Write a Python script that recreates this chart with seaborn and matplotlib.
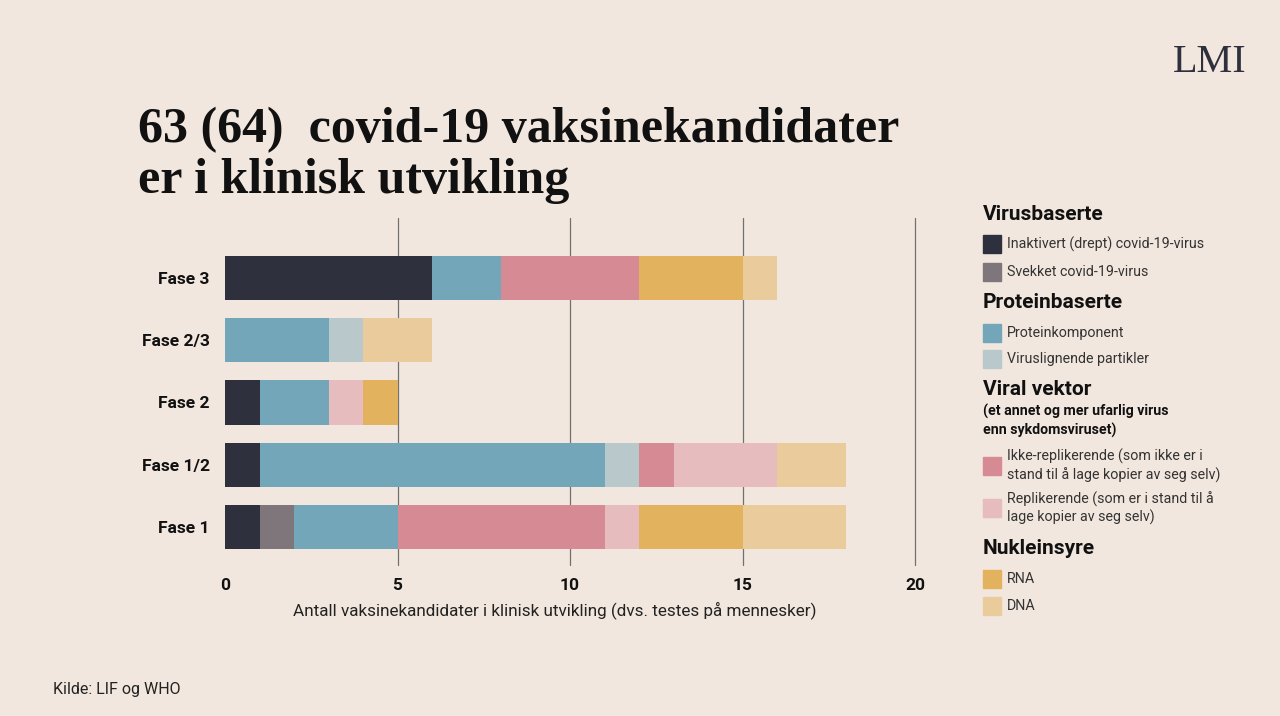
import numpy as np
import pandas as pd
import matplotlib.pyplot as plt
from matplotlib.patches import Rectangle
import seaborn as sns

# data
fases = ["Fase 3", "Fase 2/3", "Fase 2", "Fase 1/2", "Fase 1"]
inaktivert = [6, 0, 1, 1, 1]
svekket = [0, 0, 0, 0, 1]
protein = [2, 3, 2, 10, 3]
viruslignende = [0, 1, 0, 1, 0]
ikke_repl = [4, 0, 0, 1, 6]
repl = [0, 0, 1, 3, 1]
rna = [3, 0, 1, 0, 3]
dna = [1, 2, 0, 2, 3]

series = [
    ("Inaktivert (drept) covid-19-virus", inaktivert, "#2e313d"),
    ("Svekket covid-19-virus", svekket, "#7e767b"),
    ("Proteinkomponent", protein, "#72a6b8"),
    ("Viruslignende partikler", viruslignende, "#b9c8cb"),
    ("Ikke-replikerende (som ikke er i\nstand til å lage kopier av seg selv)", ikke_repl, "#d68b94"),
    ("Replikerende (som er i stand til å\nlage kopier av seg selv)", repl, "#e6bcbf"),
    ("RNA", rna, "#e3b25e"),
    ("DNA", dna, "#eacb9c"),
]

BG = "#f2e7de"
sns.set_theme(style="white")
plt.rcParams["font.family"] = ["Roboto", "DejaVu Sans"]

fig = plt.figure(figsize=(12.8, 7.16), dpi=100, facecolor=BG)
ax = fig.add_axes([225 / 1280, 1 - 565 / 716, 690 / 1280, 347 / 716])
ax.set_facecolor(BG)

# stacked bars: draw cumulative totals from the longest down
df = pd.DataFrame({"fase": fases})
cum = np.zeros(len(fases))
cums = []
for name, vals, col in series:
    cum = cum + np.array(vals)
    cums.append((cum.copy(), col))
for c, col in reversed(cums):
    sns.barplot(x=c, y=df["fase"], color=col, saturation=1, width=0.71,
                orient="h", ax=ax, zorder=3, linewidth=0)

ax.set_xlim(0, 20)
ax.set_ylim(4.61, -0.96)
ax.set_xticks([0, 5, 10, 15, 20])
for v in [5, 10, 15, 20]:
    ax.axvline(v, color="#707070", lw=0.9, zorder=1, clip_on=False)
for s in ax.spines.values():
    s.set_visible(False)
ax.tick_params(axis="both", length=0)
ax.tick_params(axis="x", pad=9, labelsize=12.5, labelcolor="#111111")
ax.tick_params(axis="y", pad=11, labelsize=12.5, labelcolor="#111111")
for lbl in ax.get_xticklabels() + ax.get_yticklabels():
    lbl.set_fontweight("bold")
ax.set_ylabel("")
ax.set_xlabel("Antall vaksinekandidater i klinisk utvikling (dvs. testes på mennesker)",
              fontsize=12.3, color="#222222")
ax.xaxis.set_label_coords(0.478, -0.105)


def px(x, y):
    return x / 1280, 1 - y / 716


# title and logo
fig.text(*px(138, 193), "63 (64)  covid-19 vaksinekandidater\ner i klinisk utvikling",
         family="Liberation Serif", fontweight="bold", fontsize=36, color="#111111",
         va="baseline", linespacing=1.15)
fig.text(*px(1247, 72), "LMI", family="Liberation Serif", fontsize=29,
         color="#2e313d", ha="right", va="baseline")
fig.text(*px(53, 694), "Kilde: LIF og WHO", fontsize=11.5, color="#222222", va="baseline")

# legend drawn by hand
headers = [("Virusbaserte", 215), ("Proteinbaserte", 303), ("Viral vektor", 390), ("Nukleinsyre", 548)]
for h, y in headers:
    fig.text(*px(983, y), h, fontsize=15, fontweight="bold", color="#111111", va="center")
fig.text(*px(983, 421), "(et annet og mer ufarlig virus\nenn sykdomsviruset)", fontsize=10.2,
         fontweight="bold", color="#111111", va="center", linespacing=1.4)
item_y = [244, 272, 333, 359, 466, 508, 579, 606]
for (name, vals, col), y in zip(series, item_y):
    fig.add_artist(Rectangle(px(983, y + 9), 18 / 1280, 18 / 716, color=col,
                             transform=fig.transFigure))
    fig.text(*px(1007, y), name, fontsize=10.3, color="#333333", va="center",
             linespacing=1.25)

fig.savefig("out.png", dpi=100, facecolor=BG)
